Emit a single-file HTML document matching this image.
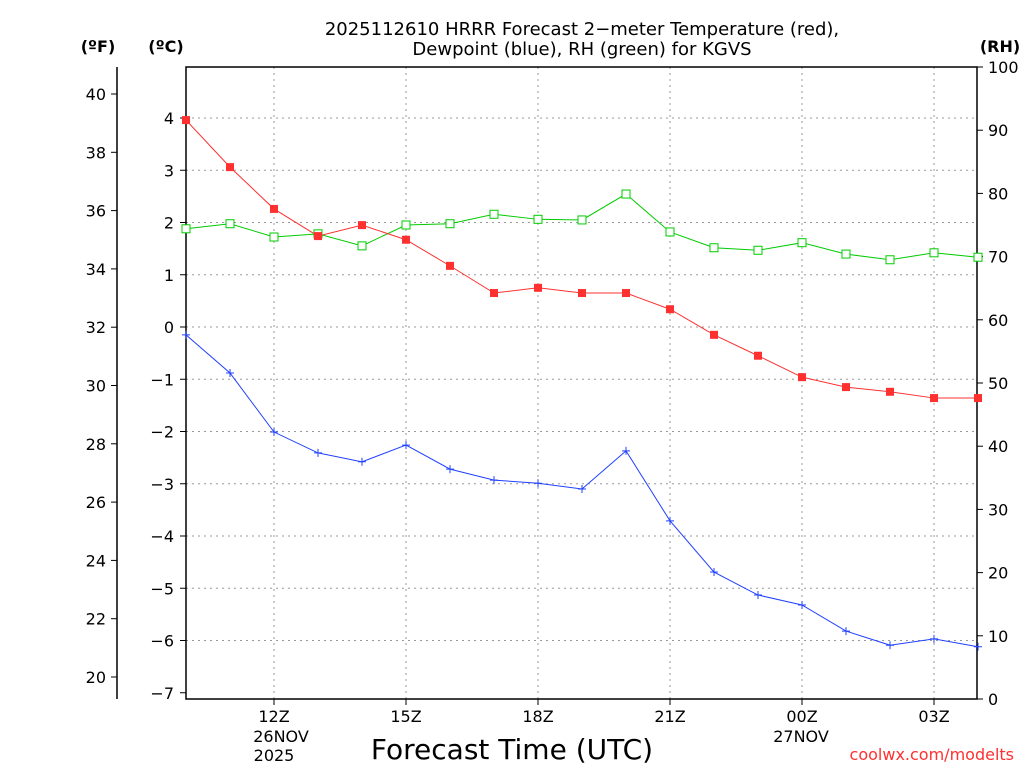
<!DOCTYPE html>
<html><head><meta charset="utf-8"><style>
body{margin:0;background:#fff}
svg{display:block;font-family:"DejaVu Sans","Liberation Sans",sans-serif}
</style></head><body>
<svg id="c" width="1024" height="768"></svg>
<script>
const hours=[10,11,12,13,14,15,16,17,18,19,20,21,22,23,24,25,26,27,28];
const tempC=[3.96,3.06,2.26,1.74,1.95,1.67,1.17,0.65,0.75,0.65,0.65,0.34,-0.15,-0.55,-0.96,-1.15,-1.24,-1.36,-1.36];
const dewC=[-0.15,-0.88,-2.01,-2.41,-2.58,-2.26,-2.72,-2.93,-2.99,-3.10,-2.37,-3.71,-4.69,-5.13,-5.32,-5.82,-6.09,-5.97,-6.12];
const rh=[74.4,75.2,73.1,73.6,71.7,75,75.2,76.7,75.9,75.8,79.9,73.9,71.4,71,72.2,70.4,69.5,70.6,69.9];
const cTicks=[4,3,2,1,0,-1,-2,-3,-4,-5,-6,-7];
const fTicks=[40,38,36,34,32,30,28,26,24,22,20];
const rhTicks=[100,90,80,70,60,50,40,30,20,10,0];
const xTicks=[12,15,18,21,24,27];
const xLabels=["12Z","15Z","18Z","21Z","00Z","03Z"];

const L=186,R=977,T=67,B=699;
const X=h=>L+(h-10)*44;
const YC=c=>327-c*52.25;
const YF=f=>94+(40-f)*29.15;
const YR=r=>B-r*6.32;
const svg=document.getElementById('c');
const NS='http://www.w3.org/2000/svg';
function el(t,a,txt){const e=document.createElementNS(NS,t);for(const k in a)e.setAttribute(k,a[k]);if(txt!==undefined)e.textContent=txt;svg.appendChild(e);return e;}

// grid
cTicks.forEach(c=>{if(c===-7)return;const g=el('line',{x1:L,x2:R,y1:YC(c),y2:YC(c),stroke:'#999','stroke-dasharray':'2,4'});});
xTicks.forEach(h=>{const g=el('line',{x1:X(h),x2:X(h),y1:T,y2:B,stroke:'#999','stroke-dasharray':'2,4'});});
// frame
const fr=el('rect',{x:L,y:T,width:R-L,height:B-T,fill:'none',stroke:'#000','stroke-width':1.5});

const fa=el('line',{x1:117,x2:117,y1:T,y2:B,stroke:'#000','stroke-width':1.5});

// ticks
cTicks.forEach(c=>{el('line',{x1:L-6,x2:L,y1:YC(c),y2:YC(c),stroke:'#000'});const t=el('text',{x:L-12,y:YC(c)+6,'text-anchor':'end','font-size':16},c<0?'\u2212'+(-c):c);});
fTicks.forEach(f=>{el('line',{x1:117,x2:111,y1:YF(f),y2:YF(f),stroke:'#000'});const t=el('text',{x:106,y:YF(f)+6,'text-anchor':'end','font-size':16},f);});
rhTicks.forEach(r=>{el('line',{x1:R,x2:R+6,y1:YR(r),y2:YR(r),stroke:'#000'});const t=el('text',{x:988,y:YR(r)+6,'font-size':16},r);});
xTicks.forEach((h,i)=>{el('line',{x1:X(h),x2:X(h),y1:B,y2:B+6,stroke:'#000'});const t=el('text',{x:X(h),y:722,'text-anchor':'middle','font-size':16},xLabels[i]);});
// series
function line(vals,yf,color,name){const p=el('polyline',{points:vals.map((v,i)=>X(hours[i])+','+yf(v)).join(' '),fill:'none',stroke:color,'stroke-width':1});}
line(rh,YR,'#00cc00','rh-line');line(tempC,YC,'#ff3030','temperature-line');line(dewC,YC,'#2040ff','dewpoint-line');
rh.forEach((v,i)=>{const m=el('rect',{x:X(hours[i])-4,y:YR(v)-4,width:8,height:8,fill:'#fff',stroke:'#00cc00'});});
tempC.forEach((v,i)=>{const m=el('rect',{x:X(hours[i])-4,y:YC(v)-4,width:8,height:8,fill:'#ff3030'});});
dewC.forEach((v,i)=>{const x=X(hours[i]),y=YC(v);const m=el('path',{d:`M${x-4},${y}H${x+4}M${x},${y-4}V${y+4}`,stroke:'#2040ff'});});
// labels
function txt(x,y,s,a,name,extra){const t=el('text',Object.assign({x:x,y:y,'text-anchor':a},extra||{}),s);}
txt(582,35,'2025112610 HRRR Forecast 2\u2212meter Temperature (red),','middle','chart-title',{'font-size':18});
txt(582,55,'Dewpoint (blue), RH (green) for KGVS','middle','chart-title-line2',{'font-size':18});
txt(98,52,'(ºF)','middle','fahrenheit-unit',{'font-size':16,'font-weight':'bold'});
txt(166,52,'(ºC)','middle','celsius-unit',{'font-size':16,'font-weight':'bold'});
txt(1000,52,'(RH)','middle','rh-unit',{'font-size':16,'font-weight':'bold'});
txt(281,742,'26NOV','middle','date-label-1',{'font-size':16});
txt(274,761,'2025','middle','year-label',{'font-size':16});
txt(801,742,'27NOV','middle','date-label-2',{'font-size':16});
txt(512,759,'Forecast Time (UTC)','middle','x-axis-title',{'font-size':28});
txt(1014,760,'coolwx.com/modelts','end','watermark',{'font-size':16,fill:'#ff3030'});
</script>
</body></html>
